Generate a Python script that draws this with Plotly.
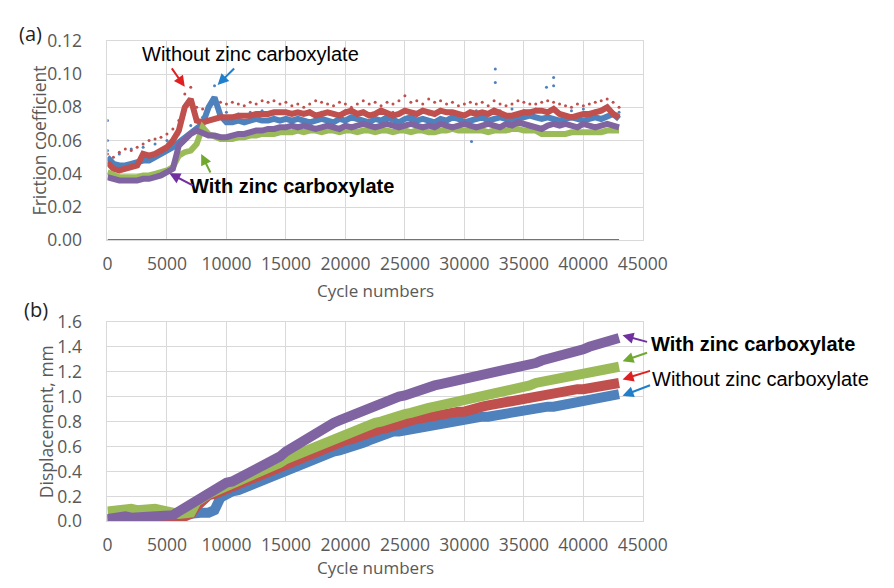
import plotly.graph_objects as go

W, H = 894, 588

# ---------------- data ----------------
cycles = list(range(0, 43001, 500))  # sample positions (87)

# (a) friction coefficient, main bands
fric_blue = [0.050,0.046,0.045,0.045,0.046,0.047,0.048,0.048,0.050,0.051,
             0.053,0.056,0.059,0.062,0.065,0.067,0.070,0.080,0.086,0.075,
             0.071,0.071,0.072,0.071,0.072,0.073,0.072,0.072,0.073,0.072,
             0.073,0.072,0.073,0.072,0.071,0.072,0.073,0.072,0.071,0.073,
             0.072,0.074,0.073,0.072,0.071,0.073,0.072,0.074,0.072,0.071,
             0.073,0.074,0.072,0.073,0.072,0.071,0.073,0.072,0.074,0.073,
             0.071,0.072,0.073,0.074,0.072,0.073,0.074,0.073,0.072,0.073,
             0.074,0.075,0.074,0.073,0.074,0.073,0.072,0.073,0.074,0.073,
             0.072,0.073,0.074,0.073,0.075,0.076,0.073]
fric_red = [0.047,0.043,0.042,0.043,0.044,0.045,0.052,0.051,0.052,0.054,
            0.056,0.060,0.066,0.080,0.085,0.072,0.071,0.072,0.073,0.074,
            0.074,0.074,0.075,0.075,0.075,0.076,0.076,0.076,0.077,0.077,
            0.077,0.076,0.077,0.076,0.077,0.075,0.076,0.077,0.076,0.075,
            0.077,0.078,0.076,0.077,0.075,0.076,0.078,0.076,0.075,0.076,
            0.078,0.077,0.076,0.078,0.077,0.076,0.078,0.077,0.077,0.076,
            0.075,0.077,0.076,0.077,0.076,0.078,0.076,0.075,0.075,0.076,
            0.077,0.077,0.078,0.078,0.077,0.079,0.076,0.075,0.074,0.075,
            0.076,0.076,0.077,0.078,0.080,0.076,0.074]
fric_green = [0.041,0.039,0.038,0.038,0.038,0.038,0.039,0.039,0.040,0.041,
              0.042,0.044,0.051,0.053,0.054,0.058,0.068,0.064,0.062,0.061,
              0.061,0.061,0.062,0.062,0.063,0.063,0.064,0.064,0.064,0.065,
              0.065,0.065,0.066,0.065,0.066,0.066,0.065,0.066,0.066,0.065,
              0.066,0.066,0.065,0.066,0.066,0.065,0.066,0.066,0.065,0.066,
              0.066,0.065,0.066,0.066,0.065,0.065,0.066,0.066,0.067,0.066,
              0.066,0.066,0.066,0.066,0.065,0.066,0.066,0.066,0.067,0.067,
              0.066,0.066,0.066,0.064,0.064,0.064,0.064,0.064,0.065,0.065,
              0.065,0.065,0.065,0.065,0.066,0.066,0.066]
fric_purple = [0.038,0.037,0.036,0.036,0.036,0.036,0.037,0.037,0.038,0.039,
               0.041,0.043,0.057,0.061,0.064,0.066,0.064,0.063,0.063,0.062,
               0.062,0.063,0.064,0.064,0.065,0.066,0.066,0.067,0.067,0.068,
               0.068,0.069,0.068,0.069,0.068,0.067,0.068,0.069,0.068,0.067,
               0.069,0.068,0.069,0.070,0.069,0.068,0.069,0.070,0.069,0.068,
               0.069,0.070,0.069,0.068,0.069,0.068,0.070,0.069,0.068,0.069,
               0.070,0.069,0.068,0.069,0.070,0.069,0.068,0.070,0.069,0.071,
               0.070,0.069,0.068,0.067,0.069,0.070,0.069,0.070,0.069,0.068,
               0.070,0.069,0.068,0.069,0.070,0.069,0.068]
# scattered upper points
fric_red_upper = [0.052,0.050,0.053,0.055,0.054,0.056,0.058,0.060,0.061,0.062,
                  0.064,0.067,0.072,0.088,0.092,0.080,0.079,0.081,0.082,0.083,
                  0.082,0.083,0.082,0.081,0.083,0.082,0.084,0.083,0.084,0.082,
                  0.083,0.081,0.082,0.080,0.082,0.084,0.083,0.082,0.081,0.083,
                  0.082,0.080,0.082,0.084,0.082,0.083,0.081,0.083,0.082,0.084,
                  0.087,0.083,0.084,0.082,0.085,0.083,0.084,0.082,0.083,0.081,
                  0.082,0.083,0.082,0.083,0.081,0.084,0.082,0.081,0.082,0.084,
                  0.083,0.082,0.082,0.083,0.084,0.083,0.082,0.081,0.080,0.082,
                  0.081,0.082,0.083,0.084,0.085,0.083,0.080]
cycles_1k = list(range(0, 43001, 1000))
fric_blue_upper = [0.054,0.052,0.055,0.056,0.058,0.060,0.064,0.069,0.074,0.093,
                   0.077,0.076,0.077,0.078,0.076,0.077,0.076,0.078,0.077,0.076,
                   0.078,0.077,0.076,0.078,0.077,0.078,0.077,0.076,0.078,0.077,
                   0.076,0.078,0.077,0.078,0.079,0.078,0.079,0.078,0.077,0.078,
                   0.079,0.078,0.079,0.077]
outlier_x = [0, 0, 30600, 32600, 32600, 36900, 37500, 37500]
outlier_y = [0.072, 0.060, 0.0595, 0.103, 0.095, 0.092, 0.098, 0.093]
zero_x = [0, 43000]
zero_y = [0.0, 0.0]

# (b) displacement, mm
disp_blue = [0.02,0.02,0.02,0.02,0.02,0.02,0.02,0.02,0.02,0.02,
             0.02,0.02,0.05,0.06,0.06,0.07,0.07,0.07,0.09,0.19,
             0.22,0.24,0.25,0.27,0.29,0.30,0.32,0.34,0.36,0.38,
             0.41,0.43,0.45,0.48,0.50,0.52,0.54,0.55,0.56,0.57,
             0.58,0.60,0.62,0.63,0.65,0.67,0.69,0.70,0.72,0.72,
             0.73,0.74,0.75,0.76,0.77,0.77,0.78,0.79,0.80,0.80,
             0.81,0.82,0.83,0.84,0.84,0.85,0.855,0.86,0.87,0.875,
             0.88,0.89,0.90,0.91,0.92,0.92,0.93,0.94,0.94,0.95,
             0.95,0.96,0.97,0.98,0.99,1.00,1.02]
disp_red = [0.01,0.01,0.02,0.01,0.01,0.02,0.01,0.01,0.02,0.01,
            0.01,0.02,0.03,0.04,0.06,0.12,0.18,0.21,0.22,0.24,
            0.26,0.28,0.30,0.32,0.33,0.35,0.37,0.39,0.41,0.43,
            0.46,0.48,0.50,0.52,0.55,0.57,0.59,0.61,0.62,0.64,
            0.65,0.66,0.68,0.69,0.71,0.72,0.74,0.75,0.77,0.78,
            0.795,0.81,0.82,0.83,0.845,0.85,0.86,0.87,0.87,0.88,
            0.88,0.90,0.91,0.92,0.93,0.94,0.95,0.96,0.97,0.98,
            0.99,1.00,1.01,1.02,1.02,1.03,1.04,1.04,1.05,1.06,
            1.06,1.07,1.08,1.09,1.095,1.10,1.11]
disp_green = [0.08,0.09,0.10,0.09,0.10,0.09,0.10,0.09,0.10,0.09,
              0.09,0.07,0.06,0.06,0.07,0.16,0.20,0.22,0.24,0.26,
              0.28,0.29,0.31,0.33,0.35,0.37,0.40,0.42,0.45,0.47,
              0.50,0.52,0.55,0.57,0.59,0.61,0.63,0.65,0.66,0.68,
              0.69,0.71,0.73,0.75,0.77,0.79,0.80,0.82,0.83,0.85,
              0.86,0.87,0.89,0.90,0.91,0.92,0.93,0.94,0.95,0.96,
              0.97,0.985,0.99,1.00,1.01,1.02,1.02,1.03,1.05,1.06,
              1.07,1.09,1.11,1.12,1.14,1.15,1.16,1.17,1.17,1.18,
              1.19,1.20,1.21,1.22,1.23,1.23,1.24]
disp_purple = [0.02,0.03,0.03,0.04,0.03,0.03,0.04,0.03,0.03,0.04,
               0.04,0.05,0.08,0.11,0.15,0.18,0.21,0.23,0.25,0.28,
               0.31,0.32,0.345,0.36,0.38,0.40,0.43,0.46,0.49,0.52,
               0.56,0.59,0.63,0.66,0.68,0.71,0.74,0.77,0.79,0.81,
               0.83,0.85,0.87,0.89,0.92,0.93,0.95,0.97,0.98,1.00,
               1.01,1.03,1.05,1.06,1.07,1.09,1.10,1.11,1.12,1.13,
               1.14,1.15,1.16,1.17,1.18,1.19,1.19,1.21,1.22,1.23,
               1.24,1.26,1.27,1.29,1.30,1.31,1.33,1.34,1.35,1.37,
               1.38,1.40,1.41,1.43,1.44,1.46,1.47]

x_ticks = [0, 5000, 10000, 15000, 20000, 25000, 30000, 35000, 40000, 45000]
x_tick_text = ["0", "5000", "10000", "15000", "20000", "25000", "30000", "35000", "40000", "45000"]
fric_ticks = [0.0, 0.02, 0.04, 0.06, 0.08, 0.10, 0.12]
disp_ticks = [0.0, 0.2, 0.4, 0.6, 0.8, 1.0, 1.2, 1.4, 1.6]

# ---------------- style ----------------
C_BLUE, C_RED, C_GREEN, C_PURPLE = "#4F81BD", "#C0504D", "#9BBB59", "#8064A2"
GRID = "#D9D9D9"
TICK_FONT = dict(family="Open Sans", size=17.5, color="#595959")

def px(x):
    return x / W

def py(y):
    return 1 - y / H

fig = go.Figure()

def band(x, y, color, width, xa, ya):
    fig.add_trace(go.Scatter(x=x, y=y, mode="lines", line=dict(color=color, width=width),
                             xaxis=xa, yaxis=ya, showlegend=False, hoverinfo="skip"))

def dots(x, y, color, size, xa, ya):
    fig.add_trace(go.Scatter(x=x, y=y, mode="markers", marker=dict(color=color, size=size),
                             xaxis=xa, yaxis=ya, showlegend=False, hoverinfo="skip"))

# (a)
dots(cycles_1k, fric_blue_upper, C_BLUE, 3, "x", "y")
dots(cycles, fric_red_upper, C_RED, 3, "x", "y")
band(cycles, fric_blue, C_BLUE, 6, "x", "y")
band(cycles, fric_red, C_RED, 6, "x", "y")
band(cycles, fric_green, C_GREEN, 6, "x", "y")
band(cycles, fric_purple, C_PURPLE, 6, "x", "y")
dots(outlier_x, outlier_y, C_BLUE, 3, "x", "y")
band(zero_x, zero_y, C_PURPLE, 2.5, "x", "y")

# (b)
band(cycles, disp_blue, C_BLUE, 10, "x2", "y2")
band(cycles, disp_red, C_RED, 10, "x2", "y2")
band(cycles, disp_green, C_GREEN, 10, "x2", "y2")
band(cycles, disp_purple, C_PURPLE, 10, "x2", "y2")

xdom = [px(106), px(660)]
axis_common = dict(showgrid=True, gridcolor=GRID, gridwidth=1, showline=True, linecolor=GRID,
                   linewidth=1, mirror=True, zeroline=False, ticks="", tickfont=TICK_FONT)

fig.update_layout(
    width=W, height=H, margin=dict(l=0, r=0, t=0, b=0),
    paper_bgcolor="white", plot_bgcolor="white", showlegend=False,
    xaxis=dict(domain=xdom, anchor="y", range=[0, 45000], tickvals=x_ticks, ticktext=x_tick_text,
               ticklabelstandoff=8, **axis_common),
    yaxis=dict(domain=[py(237), py(29)], anchor="x", range=[0, 0.12], tickvals=fric_ticks,
               tickformat=".2f", ticklabelstandoff=21, **axis_common),
    xaxis2=dict(domain=xdom, anchor="y2", range=[0, 45000], tickvals=x_ticks, ticktext=x_tick_text,
                ticklabelstandoff=8, **axis_common),
    yaxis2=dict(domain=[py(530), py(322)], anchor="x2", range=[0, 1.6], tickvals=disp_ticks,
                tickformat=".1f", ticklabelstandoff=21, **axis_common),
)

ann = []
def text(x, y, s, size, color="black", family="Open Sans", angle=0):
    ann.append(dict(x=px(x), y=py(y), xref="paper", yref="paper", text=s, showarrow=False,
                    xanchor="center", yanchor="middle", textangle=angle,
                    font=dict(family=family, size=size, color=color)))

def arrow(tail, head, color):
    ann.append(dict(x=px(head[0]), y=py(head[1]), xref="paper", yref="paper",
                    ax=tail[0] - head[0], ay=tail[1] - head[1], axref="pixel", ayref="pixel",
                    text="", showarrow=True, arrowhead=2, arrowsize=1.1, arrowwidth=2,
                    arrowcolor=color))

text(383, 289, "Cycle numbers", 17, "#595959")
text(383, 578, "Cycle numbers", 17, "#595959")
text(35, 133, "Friction coefficient", 17.5, "#595959", angle=-90)
text(42, 426, "Displacement, mm", 17.5, "#595959", angle=-90)
text(26, 21, "(a)", 20, "#222222")
text(32, 309, "(b)", 20, "#222222")

text(254, 43, "Without zinc carboxylate", 20, family="Liberation Sans")
text(297, 180, "<b>With zinc carboxylate</b>", 20, family="Liberation Sans")
text(774, 345, "<b>With zinc carboxylate</b>", 20, family="Liberation Sans")
text(782, 382, "Without zinc carboxylate", 20, family="Liberation Sans")

arrow((172, 57), (186, 77), "#E02020")
arrow((238, 57), (220, 75), "#1F7FCC")
arrow((213, 167), (203, 147), "#70A830")
arrow((195, 180), (170, 167), "#7030A0")
arrow((665, 343), (639, 336), "#7030A0")
arrow((665, 354), (639, 363), "#70A830")
arrow((668, 373), (639, 382), "#E02020")
arrow((668, 388), (639, 399), "#1F7FCC")

fig.update_layout(annotations=ann)
fig.write_html("out.html")
